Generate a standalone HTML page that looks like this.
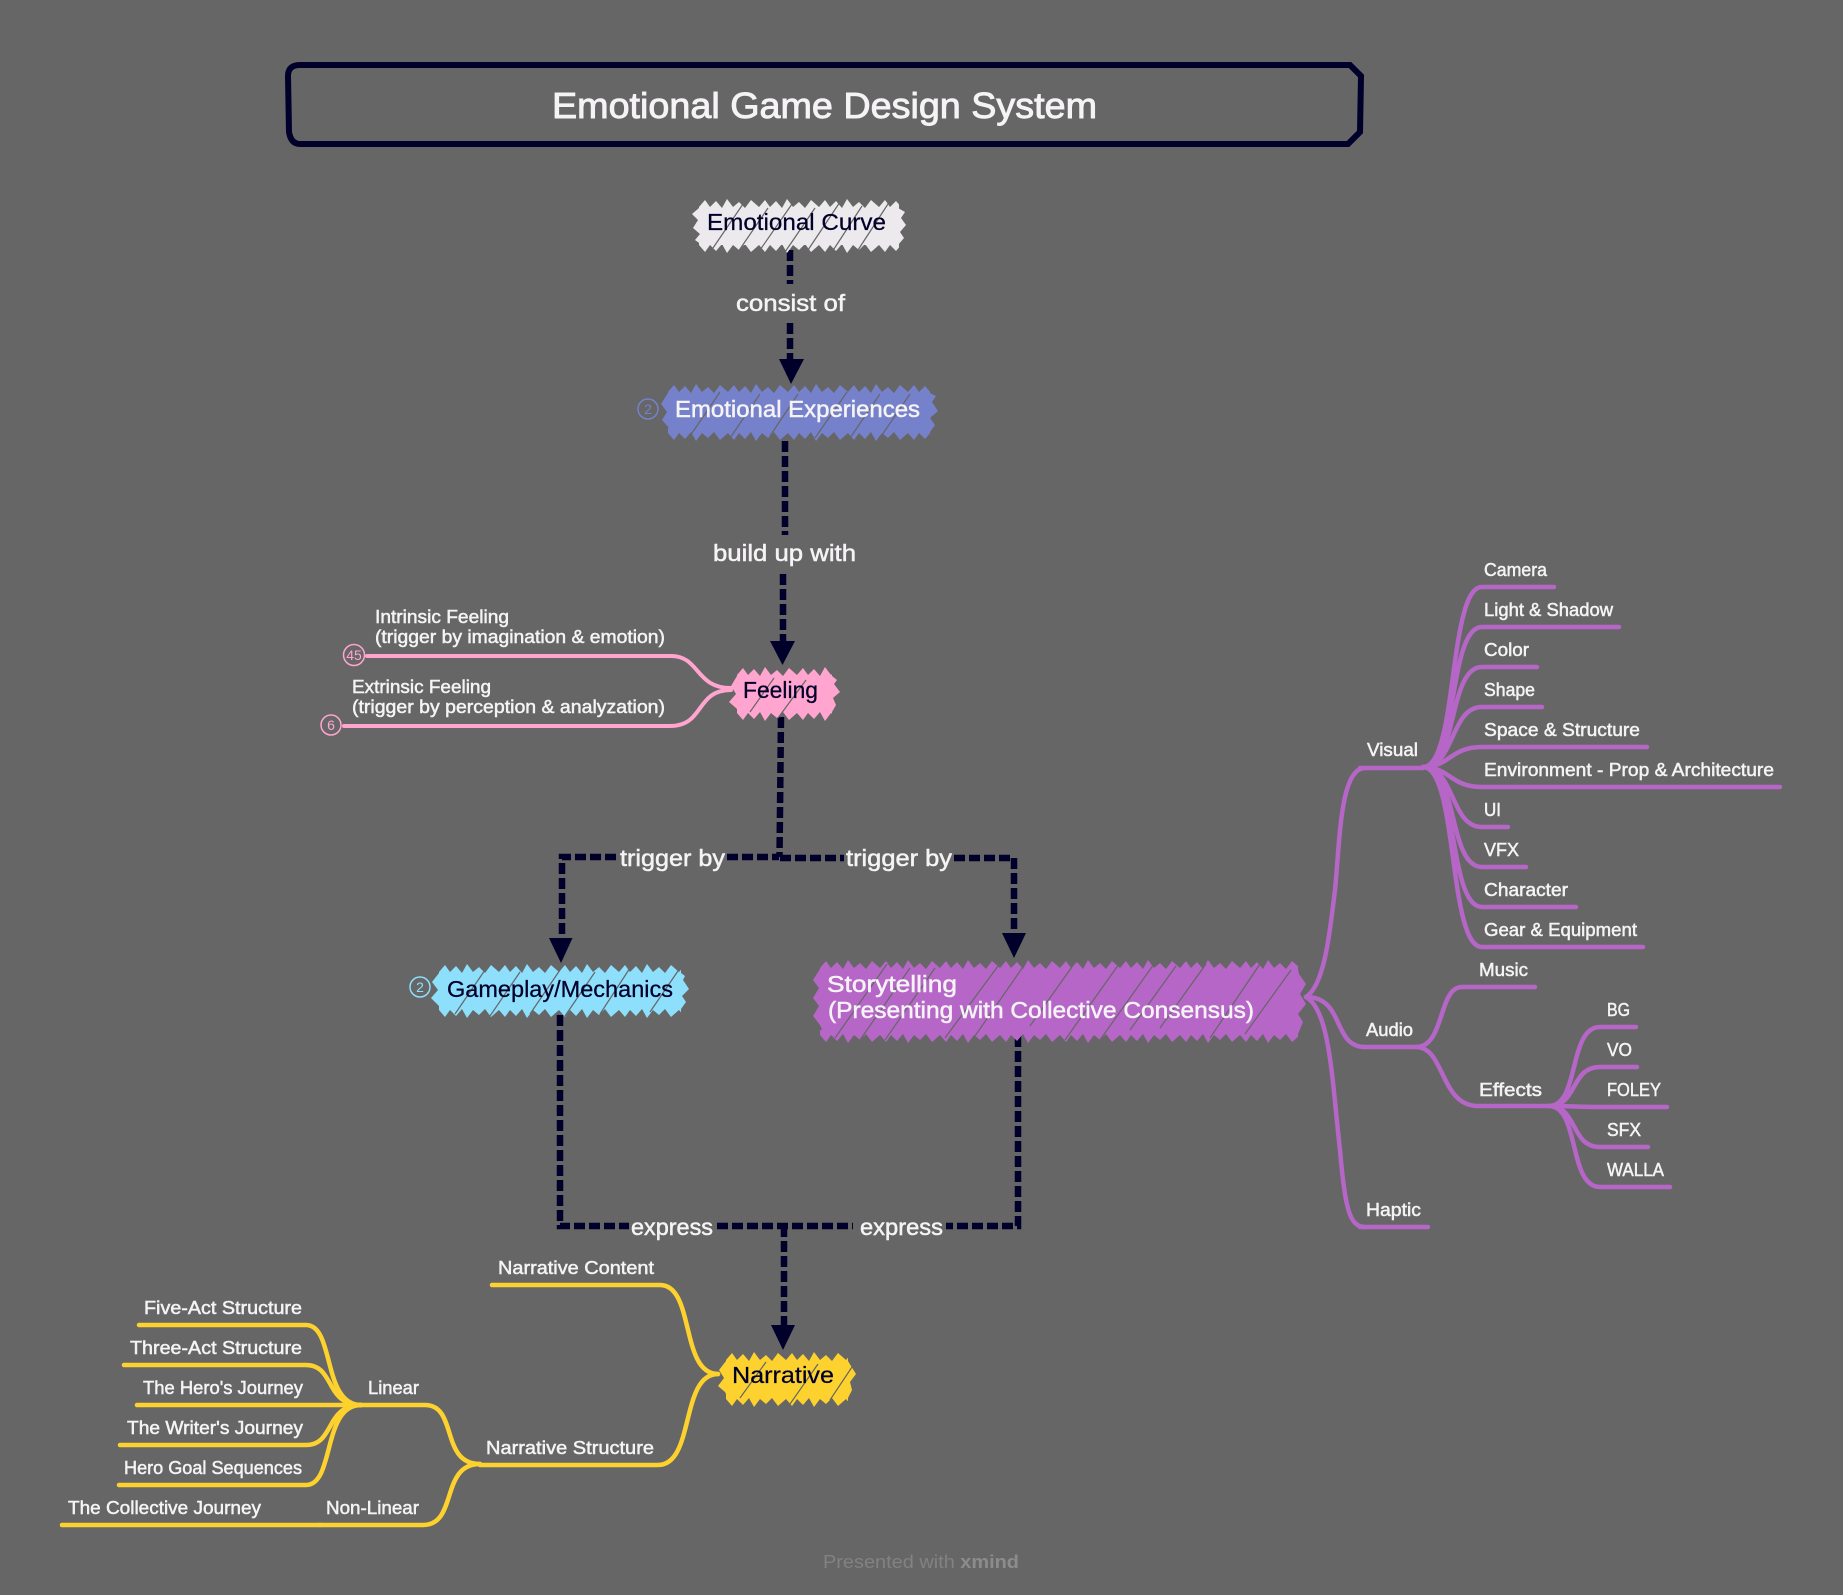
<!DOCTYPE html>
<html><head><meta charset="utf-8"><title>Emotional Game Design System</title>
<style>
html,body{margin:0;padding:0;background:#666666;width:1843px;height:1595px;overflow:hidden}
svg{display:block}
text{font-family:"Liberation Sans",sans-serif;fill:#f5f3f5;stroke:#f5f3f5;stroke-width:.5}
.n{font-size:23px}
.l{font-size:18.5px}
.d{fill:#00002a;stroke:#00002a;stroke-width:.25}
.c{fill:none;stroke:#00002a;stroke-width:6.5;stroke-dasharray:11 4}
.a{fill:#00002a;stroke:none}
.p{fill:none;stroke:#b566c7;stroke-width:4.5;stroke-linecap:round}
.y{fill:none;stroke:#fdd22e;stroke-width:4.5;stroke-linecap:round}
.k{fill:none;stroke:#ffa5cf;stroke-width:4;stroke-linecap:round}
.s{fill:none;stroke:#666;stroke-width:1.2}
</style></head><body>
<svg width="1843" height="1595" viewBox="0 0 1843 1595" xmlns="http://www.w3.org/2000/svg">
<defs>
<polygon id="tt" points="0,13 0,8 6,1 11,8 17,2 23,9 28,0 34,8 40,3 46,9 52,1 60,8 60,13"/>
<pattern id="pw" width="60" height="13" patternUnits="userSpaceOnUse"><use href="#tt" fill="#eceaec"/></pattern>
<pattern id="pb" width="60" height="13" patternUnits="userSpaceOnUse"><use href="#tt" fill="#7681cb"/></pattern>
<pattern id="pk" width="60" height="13" patternUnits="userSpaceOnUse"><use href="#tt" fill="#ffa5cf"/></pattern>
<pattern id="pc" width="60" height="13" patternUnits="userSpaceOnUse"><use href="#tt" fill="#8ddffc"/></pattern>
<pattern id="pp" width="60" height="13" patternUnits="userSpaceOnUse"><use href="#tt" fill="#b566c7"/></pattern>
<pattern id="py" width="60" height="13" patternUnits="userSpaceOnUse"><use href="#tt" fill="#fdd22e"/></pattern>
</defs>
<rect width="1843" height="1595" fill="#666666"/>

<!-- title -->
<path d="M300 65 L1350 65 L1361 76 L1360 132 L1348 144 L300 144 Q291 144 289 132 L288 76 Q288 65 300 65 Z" fill="none" stroke="#00002a" stroke-width="6"/>
<text x="552" y="118" font-size="36" textLength="545" lengthAdjust="spacingAndGlyphs" style="stroke-width:.9">Emotional Game Design System</text>

<!-- purple branches -->
<g class="p">
<path d="M1306 997 C1325 985 1330 930 1335 890 C1340 840 1340 768 1365 768"/>
<path d="M1306 997 C1345 997 1332 1047 1365 1047"/>
<path d="M1306 997 C1330 1010 1332 1080 1340 1150 C1345 1210 1350 1227 1365 1227"/>
<path d="M1360 768H1423M1365 1047H1416M1360 1227H1428"/>
<path d="M1423 767 C1458 767 1448 587 1482 587H1554"/>
<path d="M1423 767 C1458 767 1448 627 1482 627H1619"/>
<path d="M1423 767 C1458 767 1448 667 1482 667H1537"/>
<path d="M1423 767 C1455 767 1450 707 1482 707H1542"/>
<path d="M1423 767 C1450 767 1450 747 1482 747H1647"/>
<path d="M1423 767 C1450 767 1450 787 1482 787H1780"/>
<path d="M1423 767 C1455 767 1450 827 1482 827H1508"/>
<path d="M1423 767 C1458 767 1448 867 1482 867H1526"/>
<path d="M1423 767 C1458 767 1448 907 1482 907H1576"/>
<path d="M1423 767 C1458 767 1448 947 1482 947H1643"/>
<path d="M1416 1047 C1445 1047 1438 987 1462 987H1535"/>
<path d="M1416 1047 C1445 1047 1440 1106 1478 1106H1549"/>
<path d="M1549 1106 C1580 1106 1568 1027 1600 1027H1636"/>
<path d="M1549 1106 C1578 1106 1570 1067 1600 1067H1637"/>
<path d="M1549 1106 C1570 1106 1580 1107 1600 1107H1667"/>
<path d="M1549 1106 C1578 1106 1570 1147 1600 1147H1648"/>
<path d="M1549 1106 C1580 1106 1568 1187 1600 1187H1670"/>
</g>

<!-- pink branches -->
<g class="k">
<path d="M367 656H671 C700 656 695 688 731 688"/>
<path d="M344 726H670 C705 726 695 690 731 690"/>
</g>
<circle cx="354" cy="655" r="10.5" fill="none" stroke="#ffa5cf" stroke-width="1.5"/>
<circle cx="331" cy="725" r="10" fill="none" stroke="#ffa5cf" stroke-width="1.5"/>
<text x="354" y="660" font-size="14" text-anchor="middle" style="fill:#ffa5cf;stroke:none">45</text>
<text x="331" y="730" font-size="14" text-anchor="middle" style="fill:#ffa5cf;stroke:none">6</text>

<!-- yellow branches -->
<g class="y">
<path d="M492 1285H660 C695 1285 680 1374 718 1374"/>
<path d="M480 1465H658 C695 1465 680 1374 718 1374"/>
<path d="M361 1405H425 C458 1405 440 1464 480 1464"/>
<path d="M320 1525H423 C458 1525 440 1464 480 1464"/>
<path d="M62 1525H320"/>
<path d="M139 1325H306 C335 1325 322 1405 361 1405"/>
<path d="M124 1365H306 C335 1365 325 1405 361 1405"/>
<path d="M137 1405H361"/>
<path d="M120 1445H306 C335 1445 325 1405 361 1405"/>
<path d="M119 1485H306 C335 1485 322 1405 361 1405"/>
</g>

<!-- relationship connectors -->
<path class="c" d="M790 250V284"/><path class="c" d="M790 323V360"/>
<path class="a" d="M779 359H804L791 384Z"/>
<path class="c" d="M785 441V535"/><path class="c" d="M783 574V642"/>
<path class="a" d="M770 641H795L782.5 665Z"/>
<path class="c" d="M781 717L779.5 857"/>
<path class="c" d="M727 857H779"/>
<path class="c" d="M616 857H562V938"/>
<path class="a" d="M549 938H572.5L561 963Z"/>
<path class="c" d="M780 858H844"/>
<path class="c" d="M954 858H1014V934"/>
<path class="a" d="M1002 933H1026L1014 958Z"/>
<path class="c" d="M560 1015V1226H629"/>
<path class="c" d="M1018 1036V1226H946"/>
<path class="c" d="M717 1226H853"/>
<path class="c" d="M784 1226V1326"/>
<path class="a" d="M771 1325H795L783 1350Z"/>

<!-- Emotional Curve -->
<rect width="200" height="13" transform="translate(699,199)" fill="url(#pw)"/>
<rect width="200" height="13" transform="translate(699,253) scale(1,-1)" fill="url(#pw)"/>
<path d="M699 208L692 214L698 220L693 228L700 234L695 240L702 245H898L904 238L900 232L906 225L901 218L905 212L898 208Z" fill="#eceaec"/>
<path class="s" d="M713 248l30 -44M738 252l30 -44M760 250l32 -46M785 252l30 -44M808 250l32 -48M832 252l30 -46M858 250l30 -46"/>

<!-- Emotional Experiences -->
<rect width="262" height="13" transform="translate(668,384)" fill="url(#pb)"/>
<rect width="262" height="13" transform="translate(668,441) scale(1,-1)" fill="url(#pb)"/>
<path d="M668 393L661 404L667 412L662 420L669 428L670 432H930L935 425L930 418L938 411L932 402L936 396L930 393Z" fill="#7681cb"/>
<path class="s" d="M690 436l30 -44M730 438l30 -44M770 436l28 -42M815 438l32 -46M850 438l30 -44M880 438l30 -44"/>
<circle cx="648" cy="409" r="10" fill="none" stroke="#7681cb" stroke-width="1.5"/>
<text x="648" y="414" font-size="14" text-anchor="middle" style="fill:#7681cb;stroke:none">2</text>

<!-- Feeling -->
<rect width="95" height="13" transform="translate(737,667)" fill="url(#pk)"/>
<rect width="95" height="13" transform="translate(737,721) scale(1,-1)" fill="url(#pk)"/>
<path d="M737 676L731 686L736 694L729 702L736 708L740 712H832L836 705L833 698L840 692L834 684L837 680L832 676Z" fill="#ffa5cf"/>
<path class="s" d="M750 712l24 -34M778 718l28 -38"/>

<!-- Gameplay -->
<rect width="242" height="13" transform="translate(439,964)" fill="url(#pc)"/>
<rect width="242" height="13" transform="translate(439,1018) scale(1,-1)" fill="url(#pc)"/>
<path d="M439 973L432 982L438 990L431 998L438 1005L442 1009H681L686 1002L682 996L689 989L683 980L685 976L681 973Z" fill="#8ddffc"/>
<path class="s" d="M455 1014l30 -44M490 1016l30 -44M530 1014l30 -44M565 1016l30 -44M600 1014l30 -46M650 1012l30 -44"/>
<circle cx="420" cy="987" r="10" fill="none" stroke="#8ddffc" stroke-width="1.5"/>
<text x="420" y="992" font-size="14" text-anchor="middle" style="fill:#8ddffc;stroke:none">2</text>

<!-- Storytelling -->
<rect width="478" height="13" transform="translate(820,960)" fill="url(#pp)"/>
<rect width="478" height="13" transform="translate(820,1043) scale(1,-1)" fill="url(#pp)"/>
<path d="M820 969L813 980L819 988L813 998L819 1006L813 1016L820 1025L824 1034H1298L1303 1022L1298 1014L1306 1004L1300 994L1306 984L1299 974L1298 969Z" fill="#b566c7"/>
<path class="s" d="M835 1038l52 -74M860 1040l50 -72M885 1040l50 -72M945 1038l56 -76M975 1036l50 -72M1030 1026l44 -62M1065 1040l54 -76M1100 1040l54 -76M1130 1030l46 -64M1160 1028l46 -64M1210 1038l50 -74M1245 1034l46 -64"/>

<!-- Narrative -->
<rect width="122" height="13" transform="translate(726,1352)" fill="url(#py)"/>
<rect width="122" height="13" transform="translate(726,1407) scale(1,-1)" fill="url(#py)"/>
<path d="M726 1361L719 1370L724 1378L718 1386L725 1392L728 1398H848L852 1390L850 1382L856 1374L851 1366L848 1361Z" fill="#fdd22e"/>
<path class="s" d="M740 1398l26 -36M790 1404l28 -40M830 1400l24 -36"/>

<!-- node text -->
<text class="n d" x="707" y="230" textLength="179" lengthAdjust="spacingAndGlyphs">Emotional Curve</text>
<text class="n" x="675" y="417" textLength="245" lengthAdjust="spacingAndGlyphs">Emotional Experiences</text>
<text class="n d" x="743" y="698" textLength="75" lengthAdjust="spacingAndGlyphs">Feeling</text>
<text class="n d" x="447" y="997" textLength="226" lengthAdjust="spacingAndGlyphs">Gameplay/Mechanics</text>
<text class="n" x="827" y="992" textLength="130" lengthAdjust="spacingAndGlyphs">Storytelling</text>
<text class="n" x="828" y="1018" textLength="426" lengthAdjust="spacingAndGlyphs">(Presenting with Collective Consensus)</text>
<text class="n d" x="732" y="1383" textLength="102" lengthAdjust="spacingAndGlyphs">Narrative</text>

<!-- connector labels -->
<text class="n" x="736" y="311" textLength="109" lengthAdjust="spacingAndGlyphs">consist of</text>
<text class="n" x="713" y="561" textLength="143" lengthAdjust="spacingAndGlyphs">build up with</text>
<text class="n" x="620" y="866" textLength="105" lengthAdjust="spacingAndGlyphs">trigger by</text>
<text class="n" x="846" y="866" textLength="106" lengthAdjust="spacingAndGlyphs">trigger by</text>
<text class="n" x="631" y="1235" textLength="82" lengthAdjust="spacingAndGlyphs">express</text>
<text class="n" x="860" y="1235" textLength="83" lengthAdjust="spacingAndGlyphs">express</text>

<!-- pink labels -->
<text class="l" x="375" y="623" textLength="134" lengthAdjust="spacingAndGlyphs">Intrinsic Feeling</text>
<text class="l" x="375" y="643" textLength="290" lengthAdjust="spacingAndGlyphs">(trigger by imagination &amp; emotion)</text>
<text class="l" x="352" y="693" textLength="139" lengthAdjust="spacingAndGlyphs">Extrinsic Feeling</text>
<text class="l" x="352" y="713" textLength="313" lengthAdjust="spacingAndGlyphs">(trigger by perception &amp; analyzation)</text>

<!-- purple labels -->
<text class="l" x="1367" y="756" textLength="51" lengthAdjust="spacingAndGlyphs">Visual</text>
<text class="l" x="1484" y="576" textLength="63" lengthAdjust="spacingAndGlyphs">Camera</text>
<text class="l" x="1484" y="616" textLength="129" lengthAdjust="spacingAndGlyphs">Light &amp; Shadow</text>
<text class="l" x="1484" y="656" textLength="45" lengthAdjust="spacingAndGlyphs">Color</text>
<text class="l" x="1484" y="696" textLength="51" lengthAdjust="spacingAndGlyphs">Shape</text>
<text class="l" x="1484" y="736" textLength="156" lengthAdjust="spacingAndGlyphs">Space &amp; Structure</text>
<text class="l" x="1484" y="776" textLength="290" lengthAdjust="spacingAndGlyphs">Environment - Prop &amp; Architecture</text>
<text class="l" x="1484" y="816" textLength="17" lengthAdjust="spacingAndGlyphs">UI</text>
<text class="l" x="1484" y="856" textLength="35" lengthAdjust="spacingAndGlyphs">VFX</text>
<text class="l" x="1484" y="896" textLength="84" lengthAdjust="spacingAndGlyphs">Character</text>
<text class="l" x="1484" y="936" textLength="153" lengthAdjust="spacingAndGlyphs">Gear &amp; Equipment</text>
<text class="l" x="1479" y="976" textLength="49" lengthAdjust="spacingAndGlyphs">Music</text>
<text class="l" x="1366" y="1036" textLength="47" lengthAdjust="spacingAndGlyphs">Audio</text>
<text class="l" x="1479" y="1096" textLength="63" lengthAdjust="spacingAndGlyphs">Effects</text>
<text class="l" x="1607" y="1016" textLength="23" lengthAdjust="spacingAndGlyphs">BG</text>
<text class="l" x="1607" y="1056" textLength="25" lengthAdjust="spacingAndGlyphs">VO</text>
<text class="l" x="1607" y="1096" textLength="54" lengthAdjust="spacingAndGlyphs">FOLEY</text>
<text class="l" x="1607" y="1136" textLength="34" lengthAdjust="spacingAndGlyphs">SFX</text>
<text class="l" x="1607" y="1176" textLength="57" lengthAdjust="spacingAndGlyphs">WALLA</text>
<text class="l" x="1366" y="1216" textLength="55" lengthAdjust="spacingAndGlyphs">Haptic</text>

<!-- yellow labels -->
<text class="l" x="498" y="1274" textLength="156" lengthAdjust="spacingAndGlyphs">Narrative Content</text>
<text class="l" x="486" y="1454" textLength="168" lengthAdjust="spacingAndGlyphs">Narrative Structure</text>
<text class="l" x="368" y="1394" textLength="51" lengthAdjust="spacingAndGlyphs">Linear</text>
<text class="l" x="326" y="1514" textLength="93" lengthAdjust="spacingAndGlyphs">Non-Linear</text>
<text class="l" x="68" y="1514" textLength="193" lengthAdjust="spacingAndGlyphs">The Collective Journey</text>
<text class="l" x="144" y="1314" textLength="158" lengthAdjust="spacingAndGlyphs">Five-Act Structure</text>
<text class="l" x="130" y="1354" textLength="172" lengthAdjust="spacingAndGlyphs">Three-Act Structure</text>
<text class="l" x="143" y="1394" textLength="160" lengthAdjust="spacingAndGlyphs">The Hero's Journey</text>
<text class="l" x="127" y="1434" textLength="176" lengthAdjust="spacingAndGlyphs">The Writer's Journey</text>
<text class="l" x="124" y="1474" textLength="178" lengthAdjust="spacingAndGlyphs">Hero Goal Sequences</text>

<!-- footer -->
<text x="823" y="1568" font-size="18.5" textLength="196" lengthAdjust="spacingAndGlyphs" style="fill:#828282;stroke:none">Presented with <tspan font-weight="bold" fill="#8c8c8c">xmind</tspan></text>
</svg>
</body></html>
